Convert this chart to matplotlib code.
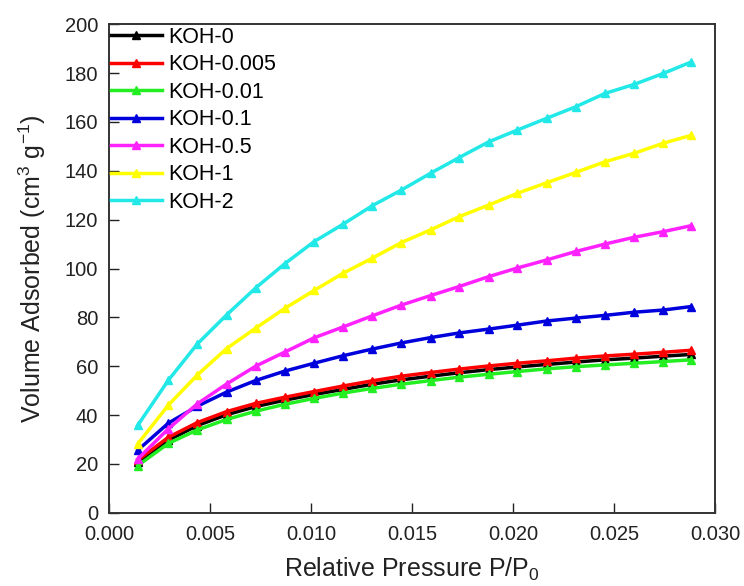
import matplotlib
matplotlib.use("Agg")
import matplotlib.pyplot as plt

plt.rcParams['font.family'] = ['Liberation Sans', 'DejaVu Sans']
plt.rcParams['mathtext.fontset'] = 'custom'
plt.rcParams['mathtext.rm'] = 'Liberation Sans'
plt.rcParams['mathtext.it'] = 'Liberation Sans'

pressure = [0.00141, 0.00293, 0.00436, 0.00581, 0.00727, 0.00870, 0.01014, 0.01159,
            0.01302, 0.01446, 0.01591, 0.01732, 0.01880, 0.02021, 0.02166, 0.02312,
            0.02455, 0.02600, 0.02744, 0.02880]

koh_0 = [20.6, 29.7, 35.7, 40.1, 43.5, 46.1, 48.4, 50.5, 52.6, 54.4, 55.9, 57.3,
         58.6, 59.7, 60.7, 61.7, 62.6, 63.3, 64.1, 64.8]
koh_0005 = [21.5, 30.9, 36.9, 41.4, 44.8, 47.3, 49.6, 51.9, 54.0, 55.9, 57.4, 58.8,
            60.1, 61.2, 62.2, 63.3, 64.2, 64.9, 65.7, 66.5]
koh_001 = [19.3, 28.4, 33.9, 38.2, 41.6, 44.4, 46.8, 49.0, 50.9, 52.6, 54.1, 55.5,
           56.7, 57.8, 58.9, 59.8, 60.5, 61.2, 61.9, 62.6]
koh_01 = [25.6, 36.7, 43.6, 49.4, 54.2, 58.0, 61.2, 64.3, 67.0, 69.5, 71.7, 73.6,
          75.2, 76.8, 78.5, 79.7, 80.8, 82.1, 83.0, 84.4]
koh_05 = [22.0, 34.4, 44.6, 52.7, 60.1, 65.8, 71.6, 76.1, 80.6, 85.0, 88.9, 92.6,
          96.7, 100.2, 103.5, 107.0, 110.0, 112.8, 115.1, 117.5]
koh_1 = [28.2, 44.1, 56.4, 67.2, 75.7, 83.7, 91.0, 98.1, 104.2, 110.6, 115.8, 121.2,
         126.0, 130.8, 135.1, 139.4, 143.7, 147.2, 151.3, 154.5]
koh_2 = [35.8, 54.3, 69.1, 81.0, 92.2, 102.0, 111.0, 118.2, 125.7, 132.1, 139.0, 145.4,
         151.9, 156.7, 161.5, 166.3, 171.7, 175.4, 179.9, 184.5]

labels = ['KOH-0', 'KOH-0.005', 'KOH-0.01', 'KOH-0.1', 'KOH-0.5', 'KOH-1', 'KOH-2']
series = [koh_0, koh_0005, koh_001, koh_01, koh_05, koh_1, koh_2]
colors = ['#000000', '#ff0000', '#22ee22', '#0000dd', '#ff22ff', '#ffff00', '#22e8e8']

x_ticks = [0.000, 0.005, 0.010, 0.015, 0.020, 0.025, 0.030]
y_ticks = [0, 20, 40, 60, 80, 100, 120, 140, 160, 180, 200]

fig = plt.figure(figsize=(7.44, 5.86), dpi=100)
ax = fig.add_axes([0.1469, 0.1251, 0.961 - 0.1469, 0.9585 - 0.1251])

for ys, lab, c in zip(series, labels, colors):
    ax.plot(pressure, ys, color=c, lw=2.5, marker='^', ms=5.5, label=lab)

ax.set_xlim(0, 0.030)
ax.set_ylim(0, 200)
ax.set_xticks(x_ticks)
ax.set_xticklabels([f'{v:.3f}' for v in x_ticks])
ax.set_yticks(y_ticks)
ax.tick_params(direction='in', length=7, width=1.0, labelsize=14.5, top=False, right=False,
               colors='#222222', labelcolor='#222222')
ax.tick_params(axis='x', pad=9)
ax.tick_params(axis='y', pad=8)
for s in ax.spines.values():
    s.set_linewidth(1.4)
    s.set_color('#333333')

ax.set_xlabel('Relative Pressure P/P$_{\\mathrm{0}}$', fontsize=18, color='#222222', labelpad=8)
ax.set_ylabel('Volume Adsorbed (cm$^{3}$ g$^{-1}$)', fontsize=18, color='#222222', labelpad=12)

leg = ax.legend(loc='upper left', frameon=False, fontsize=15.5, handlelength=2.4,
                handletextpad=0.3, labelspacing=0.30, borderaxespad=0.0,
                borderpad=0.0, bbox_to_anchor=(0.002, 0.995))

fig.savefig('out.png', dpi=100)
